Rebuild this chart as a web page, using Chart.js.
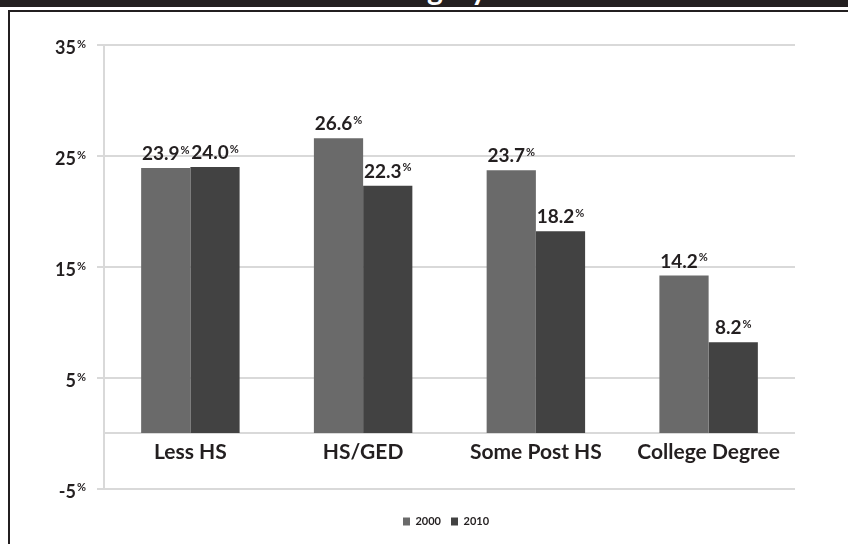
<!DOCTYPE html>
<html>
<head>
<meta charset="utf-8">
<script src="https://cdn.jsdelivr.net/npm/chart.js@4.4.1/dist/chart.umd.min.js"></script>
<style>
  html, body { margin: 0; padding: 0; background: #fff; }
  #page { position: relative; width: 848px; height: 544px; overflow: hidden; background: #fff; }
  #header { position: absolute; left: 0; top: 0; width: 848px; height: 7px; background: #231f20; overflow: hidden; }
  #header span { position: absolute; left: 365px; top: -27px; font: bold 30px Lato, sans-serif; line-height: 30px; color: #fff; white-space: nowrap; }
  #frame { position: absolute; left: 8px; top: 10px; width: 900px; height: 600px; border-left: 2px solid #231f20; border-top: 2px solid #231f20; }
  #wrap { position: absolute; left: 0; top: 0; width: 848px; height: 544px; }
</style>
</head>
<body>
<div id="page">
  <div id="header"><span>Category</span></div>
  <div id="frame"></div>
  <div id="wrap"><canvas id="c" width="848" height="544"></canvas></div>
</div>
<script>
// Share of population by educational attainment, 2000 vs 2010
const categories = ['Less HS', 'HS/GED', 'Some Post HS', 'College Degree'];
const seriesNames = ['2000', '2010'];
const values2000 = [23.9, 26.6, 23.7, 14.2];
const values2010 = [24.0, 22.3, 18.2, 8.2];
const yTicks = [-5, 5, 15, 25, 35];

const TEXT = '#231f20';
const FONT = 'Lato, "Open Sans", sans-serif';

// Number followed by a small raised percent sign
function drawPercent(ctx, text, x, baseline, size, pctSize, align) {
  ctx.font = 'bold ' + size + 'px ' + FONT;
  const w1 = ctx.measureText(text).width;
  ctx.font = 'bold ' + pctSize + 'px ' + FONT;
  const w2 = ctx.measureText('%').width;
  const gap = 1;
  const total = w1 + gap + w2;
  const start = align === 'right' ? x - total : x - total / 2;
  ctx.textAlign = 'left';
  ctx.textBaseline = 'alphabetic';
  ctx.fillStyle = TEXT;
  ctx.font = 'bold ' + size + 'px ' + FONT;
  ctx.fillText(text, start, baseline);
  ctx.font = 'bold ' + pctSize + 'px ' + FONT;
  ctx.fillText('%', start + w1 + gap, baseline - size * 0.34);
}

const decorations = {
  id: 'decorations',
  beforeDatasetsDraw(chart) {
    const { ctx, chartArea, scales } = chart;
    const y0 = scales.y.getPixelForValue(0);
    ctx.save();
    ctx.strokeStyle = '#d9d9d9';
    ctx.lineWidth = 2;
    ctx.beginPath();
    ctx.moveTo(chartArea.left, y0);
    ctx.lineTo(chartArea.right, y0);
    ctx.stroke();
    ctx.restore();
  },
  afterDatasetsDraw(chart) {
    const { ctx, scales } = chart;
    ctx.save();
    // y tick labels
    yTicks.forEach(v => {
      const py = scales.y.getPixelForValue(v);
      drawPercent(ctx, String(v), 86, py + 9, 18, 11, 'right');
    });
    // category labels beside the zero line
    const y0 = scales.y.getPixelForValue(0);
    ctx.font = 'bold 21px ' + FONT;
    ctx.fillStyle = TEXT;
    ctx.textAlign = 'center';
    ctx.textBaseline = 'alphabetic';
    categories.forEach((c, i) => {
      ctx.fillText(c, scales.x.getPixelForValue(i), y0 + 26);
    });
    // value labels on top of each bar
    chart.data.datasets.forEach((ds, di) => {
      const meta = chart.getDatasetMeta(di);
      meta.data.forEach((bar, i) => {
        drawPercent(ctx, ds.data[i].toFixed(1), bar.x, bar.y - 8, 19, 11, 'center');
      });
    });
    ctx.restore();
  }
};

new Chart(document.getElementById('c'), {
  type: 'bar',
  data: {
    labels: categories,
    datasets: [
      { label: seriesNames[0], data: values2000, backgroundColor: '#6a6a6a', borderWidth: 0 },
      { label: seriesNames[1], data: values2010, backgroundColor: '#424242', borderWidth: 0 }
    ]
  },
  options: {
    responsive: false,
    animation: false,
    devicePixelRatio: 1,
    categoryPercentage: 0.57,
    barPercentage: 1,
    layout: { padding: { left: 97, right: 53, top: 45, bottom: 7 } },
    plugins: {
      legend: {
        position: 'bottom',
        labels: {
          boxWidth: 7,
          boxHeight: 8,
          padding: 10,
          color: TEXT,
          font: { family: FONT, weight: 'bold', size: 11 }
        }
      },
      tooltip: { enabled: false }
    },
    scales: {
      x: {
        type: 'category',
        ticks: { display: false },
        grid: { display: false },
        border: { display: false },
        afterFit(s) { s.height = 17.5; }
      },
      y: {
        min: -5,
        max: 35,
        ticks: { display: false, stepSize: 10 },
        afterBuildTicks(s) { s.ticks = yTicks.map(v => ({ value: v })); },
        grid: { color: '#d9d9d9', lineWidth: 2, tickLength: 7, drawTicks: true },
        border: { display: true, color: '#d9d9d9', width: 2 }
      }
    }
  },
  plugins: [decorations]
});
</script>
</body>
</html>
